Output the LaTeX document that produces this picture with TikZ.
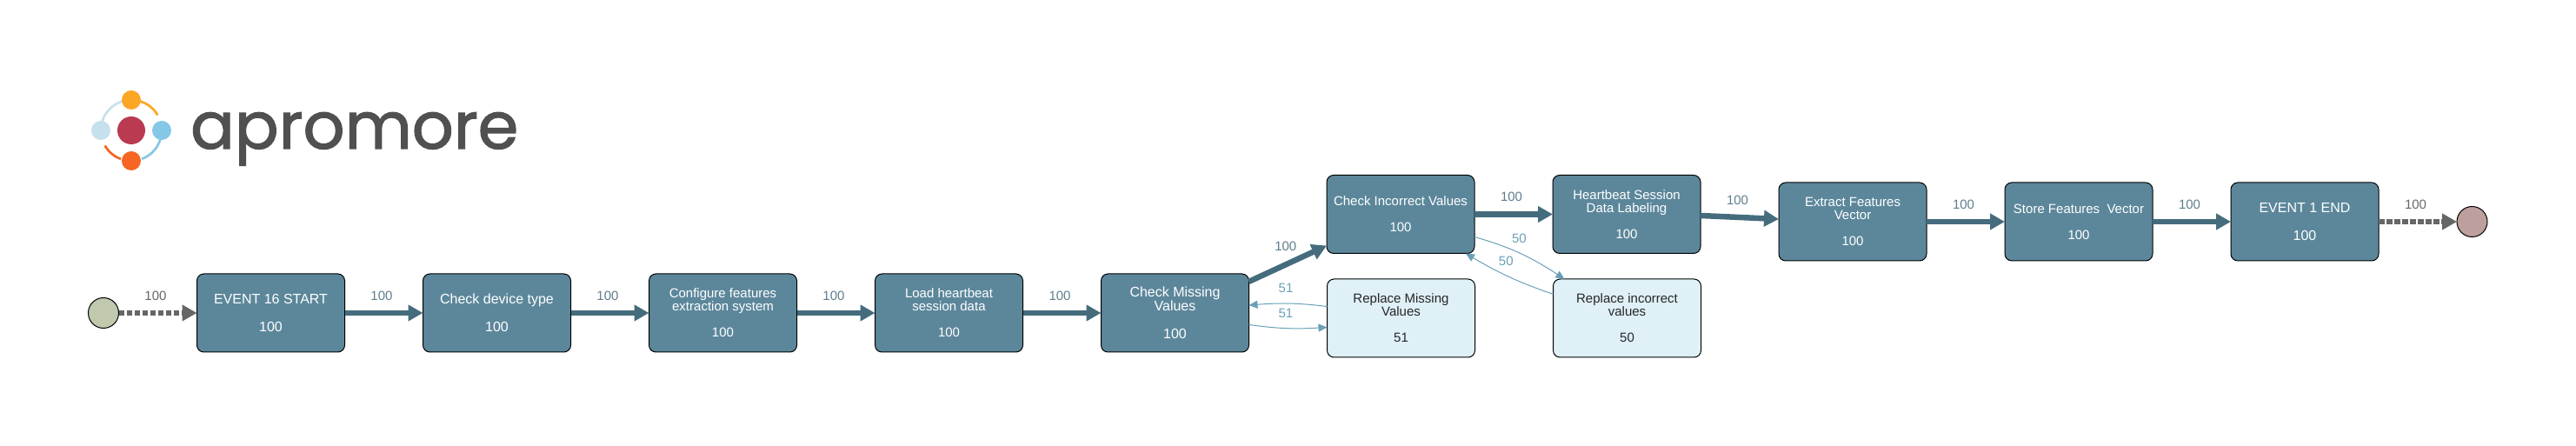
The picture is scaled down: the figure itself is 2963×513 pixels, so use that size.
\documentclass[tikz,border=0pt]{standalone}
\usepackage{fontspec}
\setmainfont{Liberation Sans}
\newfontfamily\logofont[FakeBold=1.6]{Poppins}
\usepackage{tikz}
\usetikzlibrary{
  arrows.meta,
  bending,
  positioning,
}
\definecolor{taskfill}{RGB}{92, 135, 155}
\definecolor{reworkfill}{RGB}{223, 240, 247}
\definecolor{flowline}{RGB}{69, 108, 124}
\definecolor{flowtext}{RGB}{95, 125, 140}
\definecolor{reworkline}{RGB}{107, 159, 184}
\definecolor{terminalgrey}{RGB}{102, 102, 102}
\definecolor{startfill}{RGB}{192, 201, 174}
\definecolor{endfill}{RGB}{189, 159, 157}
\definecolor{logotext}{RGB}{80, 80, 80}
\definecolor{logoamber}{RGB}{252, 166, 37}
\definecolor{logopale}{RGB}{198, 224, 237}
\definecolor{logoblue}{RGB}{133, 199, 230}
\definecolor{logoorange}{RGB}{246, 101, 34}
\definecolor{logored}{RGB}{185, 58, 81}
\tikzstyle{flow} = [
  -{Triangle[length=17pt, width=18pt]},
  line width=6.5pt,
  flowline,
]
\tikzstyle{terminal} = [
  -{Triangle[length=17pt, width=18pt]},
  line width=6.5pt,
  terminalgrey,
  dash pattern=on 6.5pt off 2.5pt,
]
\tikzstyle{rework} = [
  -{Triangle[length=10pt, width=9pt, flex]},
  line width=1pt,
  reworkline,
]

\begin{document}
\begin{tikzpicture}[x=1pt, y=1pt,
    box/.style={draw=black, line width=1pt, rounded corners=8pt, fill=taskfill, text=white,
                minimum width=170pt, minimum height=90pt, inner sep=0pt, outer sep=0pt,
                align=center, font=\fontsize{15}{15}\selectfont},
    bigbox/.style={box, font=\fontsize{16}{16}\selectfont},
    lightbox/.style={box, fill=reworkfill, text=black!85},
    terminus/.style={draw=black, line width=1pt, circle, minimum size=35pt, inner sep=0pt, outer sep=0pt},
    flowlabel/.style={midway, above=11.5pt, xshift=-2.5pt, inner sep=0pt, text=flowtext,
                      font=\fontsize{15}{15}\selectfont},
    greylabel/.style={flowlabel, text=terminalgrey},
    reworklabel/.style={flowlabel, text=reworkline, xshift=0pt},
    logodot/.style={circle, inner sep=0pt, outer sep=0pt, minimum size=22pt}]
      \useasboundingbox (0,0) rectangle (2963,513);

      \coordinate (logocentre) at (151,363);
      \draw [logoamber, line width=2.7pt] ([shift=(73:35pt)]logocentre) arc (73:30:35pt);
      \draw [logopale, line width=2.7pt] ([shift=(170:35pt)]logocentre) arc (170:105:35pt);
      \draw [logoblue, line width=2.7pt] ([shift=(-10:35pt)]logocentre) arc (-10:-70:35pt);
      \draw [logoorange, line width=2.7pt] ([shift=(250:35pt)]logocentre) arc (250:210:35pt);
      \node [logodot, fill=logored, minimum size=32pt] (logomid) at (logocentre) {};
      \node [logodot, fill=logoamber, above=8pt of logomid] (logotop) {};
      \node [logodot, fill=logoorange, below=8pt of logomid] (logobottom) {};
      \node [logodot, fill=logopale, left=8pt of logomid] (logoleft) {};
      \node [logodot, fill=logoblue, right=8pt of logomid] (logoright) {};
      \node [anchor=base west, inner sep=0pt, text=logotext, font=\logofont\fontsize{75}{75}\selectfont]
            (logoname) at (219,342) {apromore};

      \node [bigbox] (eventstart) at (311.5,153)
            {EVENT 16 START\\[16pt]100};
      \node [terminus, fill=startfill, left=90pt of eventstart] (startnode) {};
      \node [bigbox, right=90pt of eventstart] (devicetype)
            {Check device type\\[16pt]100};
      \node [box, right=90pt of devicetype] (configure)
            {Configure features\\extraction system\\[15pt]100};
      \node [box, right=90pt of configure] (loaddata)
            {Load heartbeat\\session data\\[15pt]100};
      \node [bigbox, right=90pt of loaddata] (checkmissing)
            {Check Missing\\Values\\[16pt]100};
      \node [box] (checkincorrect) at (1611,266.5)
            {Check Incorrect Values\\[15pt]100};
      \node [lightbox, right=90pt of checkmissing, yshift=-6pt] (replacemissing)
            {Replace Missing\\Values\\[15pt]51};
      \node [box, right=90pt of checkincorrect] (labeling)
            {Heartbeat Session\\Data Labeling\\[15pt]100};
      \node [lightbox, right=90pt of replacemissing] (replaceincorrect)
            {Replace incorrect\\values\\[15pt]50};
      \node [box, right=90pt of labeling, yshift=-8.5pt] (extract)
            {Extract Features\\Vector\\[15pt]100};
      \node [box, right=90pt of extract] (store)
            {Store Features\ \ Vector\\[15pt]100};
      \node [bigbox, right=90pt of store] (eventend)
            {EVENT 1 END\\[16pt]100};
      \node [terminus, fill=endfill, right=90pt of eventend] (endnode) {};

      \draw [terminal] (startnode) -- node [greylabel] (startlabel) {100} (eventstart);
      \draw [flow] (eventstart) -- node [flowlabel] (label1) {100} (devicetype);
      \draw [flow] (devicetype) -- node [flowlabel] (label2) {100} (configure);
      \draw [flow] (configure) -- node [flowlabel] (label3) {100} (loaddata);
      \draw [flow] (loaddata) -- node [flowlabel] (label4) {100} (checkmissing);
      \draw [flow] (checkmissing.23.5) -- node [flowlabel] (label5) {100} (checkincorrect.203.9);
      \draw [flow] (checkincorrect) -- node [flowlabel] (label6) {100} (labeling);
      \draw [flow] (labeling.-1.7) -- node [flowlabel] (label7) {100} (extract.178);
      \draw [flow] (extract) -- node [flowlabel] (label8) {100} (store);
      \draw [flow] (store) -- node [flowlabel] (label9) {100} (eventend);
      \draw [terminal] (eventend) -- node [greylabel] (endlabel) {100} (endnode);

      \draw [rework] (replacemissing.171.1) to [bend right=6]
            node [reworklabel] (labelback1) {51} (checkmissing.6.2);
      \draw [rework] (checkmissing.-9.3) to [bend right=6]
            node [reworklabel] (labelfwd1) {51} (replacemissing.187.2);
      \draw [rework] (checkincorrect.-17.7) to [bend left=9]
            node [reworklabel] (labelfwd2) {50} (replaceincorrect.148.7);
      \draw [rework] (replaceincorrect.162.4) to [bend left=6]
            node [reworklabel] (labelback2) {50} (checkincorrect.-31.2);
    \end{tikzpicture}
\end{document}
